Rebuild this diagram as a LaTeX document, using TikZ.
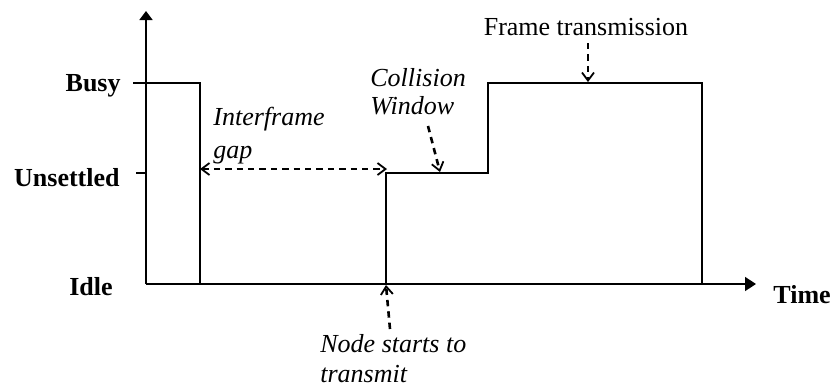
\documentclass[tikz,border=0pt]{standalone}
\usepackage{fontspec}
\setmainfont{Liberation Serif}
\usetikzlibrary{arrows.meta}
\tikzset{barb/.tip={Straight Barb[length=4pt,width=6pt,line width=0.9pt]}}
\begin{document}
\begin{tikzpicture}[x=0.5pt,y=-0.5pt,
  axis/.style={line width=0.8pt},
  signal/.style={line width=1pt},
  tick/.style={line width=0.8pt},
  level/.style={font=\fontsize{13}{15}\selectfont\bfseries,inner sep=0pt},
  note/.style={font=\fontsize{13}{15}\selectfont\itshape,inner sep=0pt,align=left},
  pointer/.style={line width=1.3pt,dash pattern=on 3.2pt off 2.5pt,-{barb}},
  twoway/.style={pointer,{barb}-{barb}}]
\useasboundingbox (0,0) rectangle (832,387);

% axes
\coordinate (O) at (146,284);
\coordinate (ytop) at (146,11);
\coordinate (xend) at (756,284);
\draw[axis,-{Triangle[length=4.5pt,width=6.5pt]}] (O) -- (ytop);
\draw[axis,-{Triangle[length=5.5pt,width=7pt]}] (O) -- (xend);

% level ticks
\coordinate (busyL) at (133,83);
\coordinate (busyA) at (146,83);
\coordinate (unsL) at (136,173);
\coordinate (unsA) at (146,173);
\draw[tick] (busyL) -- (busyA);
\draw[tick] (unsL) -- (unsA);

% level labels
\node[level,anchor=base east] (busy) at (121,91) {Busy};
\node[level,anchor=base east] (uns) at (120,186) {Unsettled};
\node[level,anchor=base east] (idle) at (113,295) {Idle};
\node[level,anchor=base west] (time) at (773,303) {Time};

% signal waveform
\coordinate (s1) at (200,83);
\coordinate (s2) at (200,284);
\coordinate (s3) at (386,284);
\coordinate (s4) at (488,173);
\coordinate (s5) at (702,83);
\coordinate (s6) at (702,284);
\draw[signal] (busyA) -- (s1) -- (s2);
\draw[signal] (s3) |- (s4) |- (s5) -- (s6);

% annotations
\node[font=\fontsize{13}{15}\selectfont,inner sep=0pt,anchor=base] (ft) at (586,35) {Frame transmission};
\coordinate (ftStart) at (588,43);
\coordinate (ftTip) at (588,82);
\draw[pointer] (ftStart) -- (ftTip);

\node[note,font=\fontsize{13}{14}\selectfont\itshape,anchor=north west] (cw) at (370,68) {Collision\\Window};
\coordinate (cwStart) at (428,126);
\coordinate (cwTip) at (440,172);
\draw[pointer] (cwStart) -- (cwTip);

\node[note,font=\fontsize{13}{16.5}\selectfont\itshape,anchor=north west] (ifg) at (213,107) {Interframe\\gap};
\coordinate (gapL) at (200,169);
\coordinate (gapR) at (387,169);
\draw[twoway] (gapL) -- (gapR);

\node[note,font=\fontsize{13}{15}\selectfont\itshape,anchor=north west] (nst) at (320,334) {Node starts to\\transmit};
\coordinate (nsStart) at (390,329);
\coordinate (nsTip) at (386,285);
\draw[pointer] (nsStart) -- (nsTip);
\end{tikzpicture}
\end{document}
